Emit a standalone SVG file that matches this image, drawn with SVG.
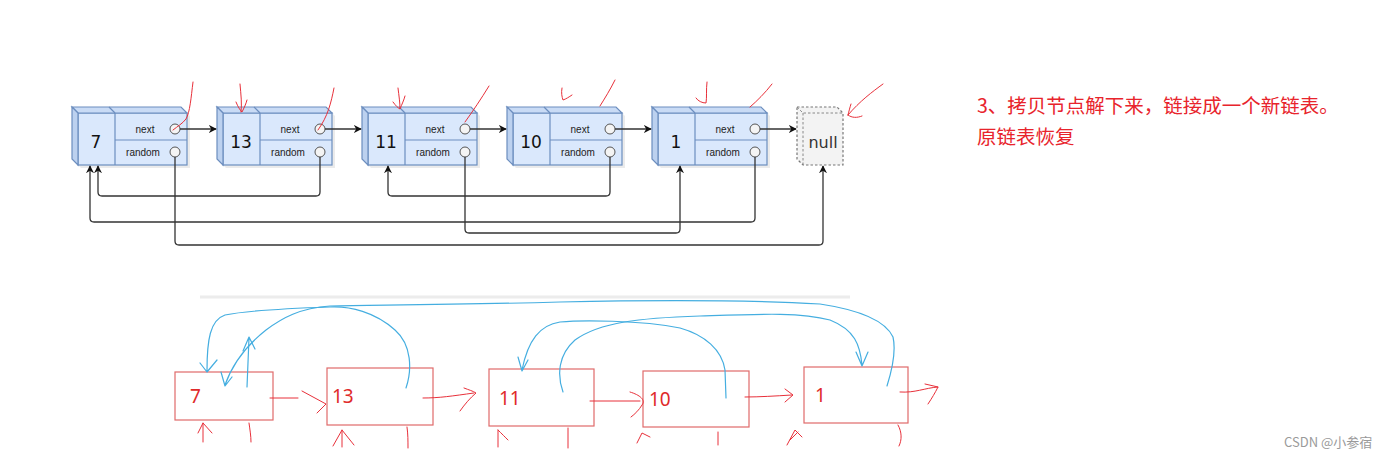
<svg xmlns="http://www.w3.org/2000/svg" xmlns:xlink="http://www.w3.org/1999/xlink" width="1400" height="460" viewBox="0 0 1400 460">
<style>
.face{fill:#dae8fc;stroke:#6c8ebf;stroke-width:1.2}
.top{fill:#c9dbf5;stroke:#6c8ebf;stroke-width:1.2}
.side{fill:#bcd1ef;stroke:#6c8ebf;stroke-width:1.2}
.div{stroke:#6c8ebf;stroke-width:1.2;fill:none}
.port{fill:#f4f4f4;stroke:#555;stroke-width:1}
.val{font-family:"DejaVu Sans",sans-serif;font-size:17px;fill:#111;text-anchor:middle}
.fld{font-family:"Liberation Sans",sans-serif;font-size:10px;fill:#222;text-anchor:middle}
.conn{fill:none;stroke:#333;stroke-width:1.3}
.red{fill:none;stroke:#e8303a;stroke-width:1;stroke-linecap:round;stroke-linejoin:round}
.rbox{fill:#fff;stroke:#e06a6a;stroke-width:1.2}
.rtxt{font-family:"Noto Sans","Liberation Sans",sans-serif;font-size:19px;fill:#e02a2a}
.blue{fill:none;stroke:#45aee0;stroke-width:1.2;stroke-linecap:round;stroke-linejoin:round}
.note{font-family:"Noto Sans CJK SC","Noto Sans",sans-serif;font-size:19.5px;fill:#e8242c}
</style>
<defs>
<marker id="ah" viewBox="0 0 10 10" refX="9" refY="5" markerWidth="8" markerHeight="8" orient="auto" markerUnits="userSpaceOnUse">
<path d="M0 0 L10 5 L0 10 L3 5 Z" fill="#111"/>
</marker>
<g id="cube">
<polygon points="3,3 112,3 118,9 118,61 9,61 3,55" fill="#d8d8d8" opacity="0.5"/>
<rect class="face" x="6" y="6" width="109" height="52"/>
<polygon class="top" points="0,0 109,0 115,6 6,6"/>
<polygon class="side" points="0,0 6,6 6,58 0,52"/>
<line class="div" x1="37" y1="0" x2="43" y2="6"/>
<line class="div" x1="43" y1="6" x2="43" y2="58"/>
<line class="div" x1="43" y1="33" x2="115" y2="33"/>
<circle class="port" cx="103" cy="22" r="5"/>
<circle class="port" cx="103" cy="45" r="5"/>
<text class="fld" x="73" y="25.5">next</text>
<text class="fld" x="71" y="49">random</text>
</g>
</defs>
<rect width="1400" height="460" fill="#fff"/>

<g id="n7" transform="translate(72,107)"><use href="#cube"/><text class="val" x="24" y="41">7</text></g>
<g id="n13" transform="translate(217,107)"><use href="#cube"/><text class="val" x="24" y="41">13</text></g>
<g id="n11" transform="translate(362,107)"><use href="#cube"/><text class="val" x="24" y="41">11</text></g>
<g id="n10" transform="translate(507,107)"><use href="#cube"/><text class="val" x="24" y="41">10</text></g>
<g id="n1" transform="translate(652,107)"><use href="#cube"/><text class="val" x="24" y="41">1</text></g>
<g id="nnull" transform="translate(797,107)">
<polygon points="0,0 40,0 46,6 46,58 6,58 0,52" fill="#f3f3f3" stroke="#777" stroke-width="1.2" stroke-dasharray="2.5,2"/>
<polyline points="0,0 6,6 46,6" fill="none" stroke="#888" stroke-width="1" stroke-dasharray="2.5,2"/>
<line x1="6" y1="6" x2="6" y2="58" stroke="#888" stroke-width="1" stroke-dasharray="2.5,2"/>
<text x="26" y="41" text-anchor="middle" font-family="DejaVu Sans,sans-serif" font-size="16" fill="#333">null</text>
</g>

<g id="connectors">
<path class="conn" d="M180 129 H216" marker-end="url(#ah)"/>
<path class="conn" d="M325 129 H361" marker-end="url(#ah)"/>
<path class="conn" d="M470 129 H506" marker-end="url(#ah)"/>
<path class="conn" d="M615 129 H651" marker-end="url(#ah)"/>
<path class="conn" d="M760 129 H796" stroke-width="1.8" marker-end="url(#ah)"/>
<path class="conn" d="M175 157 V241 Q175 245 179 245 H819 Q823 245 823 241 V166" marker-end="url(#ah)"/>
<path class="conn" d="M320 157 V192 Q320 196 316 196 H102 Q98 196 98 192 V166" marker-end="url(#ah)"/>
<path class="conn" d="M465 157 V229 Q465 233 469 233 H676 Q680 233 680 229 V166" marker-end="url(#ah)"/>
<path class="conn" d="M610 157 V192 Q610 196 606 196 H392 Q388 196 388 192 V166" marker-end="url(#ah)"/>
<path class="conn" d="M755 157 V218 Q755 222 751 222 H94 Q90 222 90 218 V166" marker-end="url(#ah)"/>
</g>

<g id="top-marks">
<path class="red" d="M193 82 C191 98 190 112 186 119 C182 124 178 126 173 130"/>
<path class="red" d="M240 84 C241 95 242 104 241 112 M236 102 C238 107 240 110 242 112 C244 108 246 104 247 100"/>
<path class="red" d="M334 88 C331 103 328 116 318 130"/>
<path class="red" d="M398 88 C399 96 400 103 400 108 M393 102 C396 106 398 108 400 109 C402 104 404 100 405 96"/>
<path class="red" d="M489 86 C481 99 473 111 465 122"/>
<path class="red" d="M562 88 C561 93 562 97 563 100 C566 99 569 97 572 95"/>
<path class="red" d="M615 80 C610 90 605 98 600 106"/>
<path class="red" d="M707 82 C706 90 707 97 706 103 C702 103 698 101 696 98"/>
<path class="red" d="M772 84 C765 93 757 101 750 107"/>
<path class="red" d="M883 84 C872 92 860 101 848 115 M848 115 C852 118 857 118 862 116 M848 115 C849 111 850 107 851 104"/>
</g>

<text class="note" x="977" y="113">3、拷贝节点解下来，链接成一个新链表。</text>
<text class="note" x="977" y="144">原链表恢复</text>

<line x1="200" y1="297" x2="850" y2="297" stroke="#ececec" stroke-width="3"/>

<g id="b7"><rect class="rbox" x="175" y="372" width="98" height="48"/><text class="rtxt" x="190" y="403">7</text></g>
<g id="b13"><rect class="rbox" x="327" y="368" width="106" height="57"/><text class="rtxt" x="332" y="403">13</text></g>
<g id="b11"><rect class="rbox" x="489" y="369" width="105" height="57"/><text class="rtxt" x="499" y="405">11</text></g>
<g id="b10"><rect class="rbox" x="643" y="371" width="106" height="56"/><text class="rtxt" x="649" y="406">10</text></g>
<g id="b1"><rect class="rbox" x="804" y="367" width="104" height="56"/><text class="rtxt" x="815" y="402">1</text></g>

<g id="bottom-connectors">
<path class="red" d="M270 398 H298 M302 391 L326 404 L317 413"/>
<path class="red" d="M423 398 C440 398 452 396 474 393 M464 388 C469 390 473 391 476 393 C470 398 465 404 460 411"/>
<path class="red" d="M590 401 H640 M630 392 C640 395 646 400 642 405 C639 410 635 414 631 417"/>
<path class="red" d="M745 397 C760 397 775 396 792 395 M785 389 L793 395 L785 402"/>
<path class="red" d="M900 392 C915 393 925 388 938 387 C935 393 932 398 928 404 M925 384 L938 387"/>
<path class="red" d="M203 442 V423 M198 433 L203 423 L212 433"/>
<path class="red" d="M249 423 C250 430 251 436 251 442"/>
<path class="red" d="M342 447 V430 M333 446 L342 430 L354 445"/>
<path class="red" d="M407 427 C408 434 408 441 408 448"/>
<path class="red" d="M498 447 V430 M498 430 C502 434 505 437 508 440"/>
<path class="red" d="M568 428 V448"/>
<path class="red" d="M637 443 L642 433 L650 437"/>
<path class="red" d="M718 432 V445"/>
<path class="red" d="M787 445 L795 430 L802 437 M790 440 L798 432"/>
<path class="red" d="M898 425 C902 432 902 440 899 446"/>

<path class="blue" d="M406 388 C412 370 412 345 395 330 C375 312 350 306 330 307 C300 308 250 310 225 315 C210 320 207 340 207 371 M200 363 L207 372 L217 360"/>
<path class="blue" d="M887 386 C892 370 896 350 893 337 C885 320 860 310 820 304 C750 300 650 300 560 302 C450 305 380 305 330 306 C300 308 282 318 266 330 C247 345 232 365 225 385 M221 372 L225 386 L232 377"/>
<path class="blue" d="M247 387 L249 338 M243 351 L249 337 L255 349"/>
<path class="blue" d="M563 392 C557 375 558 355 575 340 C600 322 640 318 700 316 C760 314 800 312 830 320 C855 330 860 345 862 365 M856 352 L862 366 L868 352"/>
<path class="blue" d="M726 398 L725 370 C722 350 705 335 680 328 C640 320 580 320 560 322 C540 325 528 340 522 370 M518 357 L522 371 L528 360"/>
</g>

<text x="1284" y="447" font-family="Noto Sans CJK SC,Noto Sans,sans-serif" font-size="13" fill="#9a9a9a">CSDN @小参宿</text>
</svg>
